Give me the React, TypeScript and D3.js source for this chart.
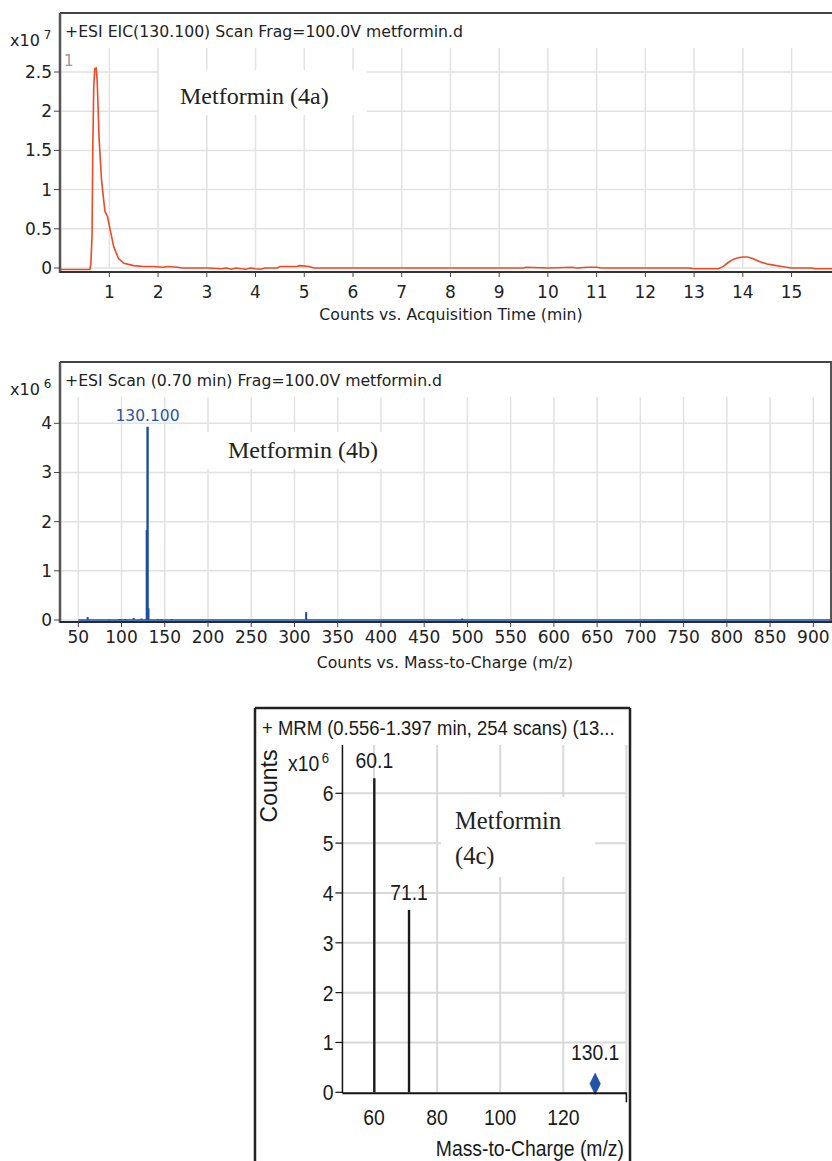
import React from "react";
import * as d3 from "d3";

// ---------------------------------------------------------------------------
// Data
// ---------------------------------------------------------------------------

// EIC chromatogram (4a): [time (min), counts x10^7]
const eicPoints: [number, number][] = [
  [0, -0.02], [0.3, -0.02], [0.6, -0.02], [0.62, 0.05], [0.645, 0.4],
  [0.66, 1.5], [0.68, 2.3], [0.7, 2.54], [0.73, 2.55], [0.75, 2.4],
  [0.79, 1.65], [0.84, 1.12], [0.91, 0.72], [0.96, 0.66], [1.02, 0.48],
  [1.09, 0.27], [1.19, 0.12], [1.3, 0.06], [1.5, 0.03], [1.7, 0.02],
  [1.9, 0.02], [2.1, 0.01], [2.2, 0.02], [2.4, 0.01], [2.5, 0],
  [3.0, 0], [3.3, -0.01], [3.4, 0], [3.5, -0.015], [3.6, 0],
  [3.7, -0.01], [3.8, -0.015], [3.9, 0], [4.0, -0.01], [4.1, -0.015],
  [4.2, 0], [4.45, 0], [4.5, 0.02], [4.85, 0.02], [4.9, 0.03],
  [5.1, 0.02], [5.2, 0], [6, 0], [7, 0], [8, 0],
  [9, 0], [9.5, 0], [9.55, 0.01], [10, 0], [10.5, 0.01],
  [10.6, 0], [10.8, 0.01], [11.0, 0.01], [11.1, 0], [11.4, 0],
  [12, 0], [12.9, 0], [13.0, -0.01], [13.3, -0.01], [13.5, -0.01],
  [13.6, 0.02], [13.7, 0.07], [13.8, 0.11], [13.9, 0.13], [14.0, 0.14],
  [14.1, 0.14], [14.2, 0.12], [14.35, 0.08], [14.5, 0.05], [14.6, 0.04],
  [14.8, 0.02], [15.0, 0], [15.4, 0], [15.5, -0.01], [15.7, -0.01],
  [15.83, -0.01],
];
const eicXTicks = [1, 2, 3, 4, 5, 6, 7, 8, 9, 10, 11, 12, 13, 14, 15];
const eicYTicks = [0, 0.5, 1, 1.5, 2, 2.5];

// MS scan (4b): [m/z, counts x10^6]
const msPeaks: [number, number][] = [
  [60.8, 0.06], [86, 0.01], [97, 0.02], [99, 0.02], [104, 0.02],
  [114, 0.04], [123, 0.03], [129.3, 1.83], [130.1, 3.93], [131.2, 0.24],
  [142, 0.02], [146, 0.02], [158, 0.02], [313.5, 0.16], [494, 0.03],
];
const msXTicks = d3.range(50, 901, 50);
const msYTicks = [0, 1, 2, 3, 4];

// MRM product ions (4c): [m/z, counts x10^6]
const mrmProducts: [number, number][] = [
  [60.1, 6.3],
  [71.1, 3.66],
];
const mrmPrecursor: [number, number] = [130.1, 0.17];
const mrmXTicks = [60, 80, 100, 120];
const mrmYTicks = [0, 1, 2, 3, 4, 5, 6];

// ---------------------------------------------------------------------------

const SANS = "'DejaVu Sans', Verdana, sans-serif";
const ARIAL = "'Liberation Sans', Arial, sans-serif";
const SERIF = "'Liberation Serif', 'Times New Roman', serif";

type NTextProps = {
  x: number;
  y: number;
  size?: number;
  anchor?: "start" | "middle" | "end";
  dy?: string;
  rotate?: number;
  squeeze?: number;
  children: React.ReactNode;
};

// condensed sans text: Arial squeezed horizontally
function NText({ x, y, size = 22, anchor = "start", dy, rotate = 0, squeeze = 0.88, children }: NTextProps) {
  const tf = rotate
    ? `translate(${x},${y}) rotate(${rotate}) scale(${squeeze},1)`
    : `translate(${x},${y}) scale(${squeeze},1)`;
  return (
    <text transform={tf} dy={dy} textAnchor={anchor} fontFamily={ARIAL} fontSize={size} fill="#1a1a1a">
      {children}
    </text>
  );
}

function EicPanel() {
  const x = d3.scaleLinear().domain([0, 15.83]).range([60.6, 832]);
  const y = d3.scaleLinear().domain([0, 2.5]).range([268, 72]);
  const top = 48;
  const line = d3
    .line<[number, number]>()
    .x((d) => x(d[0]))
    .y((d) => y(d[1]));

  return (
    <g>
      {/* grid */}
      {eicXTicks.map((t) => (
        <line key={"gx" + t} x1={x(t)} x2={x(t)} y1={top} y2={y(0)} stroke="#e2e2e2" strokeWidth={1.5} />
      ))}
      {eicYTicks.map((t) => (
        <line key={"gy" + t} x1={60} x2={832} y1={y(t)} y2={y(t)} stroke="#e2e2e2" strokeWidth={1.5} />
      ))}
      {/* annotation box */}
      <rect x={159} y={70} width={208} height={45} fill="#fff" />
      <text x={180} y={104} fontFamily={SERIF} fontSize={24} fill="#222">
        Metformin (4a)
      </text>
      <text x={64} y={66} fontFamily={SANS} fontSize={15} fill="#999">1</text>

      <path d={line(eicPoints) ?? ""} fill="none" stroke="#ee4a25" strokeWidth={1.6} />

      {/* frame and axes */}
      <line x1={60} x2={832} y1={13} y2={13} stroke="#444" strokeWidth={2} />
      <line x1={60} x2={60} y1={13} y2={273} stroke="#555" strokeWidth={2.5} />
      <line x1={60} x2={832} y1={272} y2={272} stroke="#333" strokeWidth={2} />
      <text x={65} y={37} fontFamily={SANS} fontSize={15.7} fill="#222">
        +ESI EIC(130.100) Scan Frag=100.0V metformin.d
      </text>
      <text x={10} y={46} fontFamily={SANS} fontSize={16} fill="#222">
        x10
        <tspan dx={4} dy={-7} fontSize={12}>7</tspan>
      </text>
      {eicYTicks.map((t) => (
        <g key={"ty" + t}>
          <line x1={54} x2={60} y1={y(t)} y2={y(t)} stroke="#444" />
          <text x={52} y={y(t)} dy="0.35em" textAnchor="end" fontFamily={SANS} fontSize={17} fill="#222">
            {String(t)}
          </text>
        </g>
      ))}
      {eicXTicks.map((t) => (
        <g key={"tx" + t}>
          <line x1={x(t)} x2={x(t)} y1={272} y2={277} stroke="#444" />
          <text x={x(t)} y={298} textAnchor="middle" fontFamily={SANS} fontSize={17} fill="#222">
            {t}
          </text>
        </g>
      ))}
      <text x={451} y={320} textAnchor="middle" fontFamily={SANS} fontSize={15.7} fill="#222">
        Counts vs. Acquisition Time (min)
      </text>
    </g>
  );
}

function MsPanel() {
  const x = d3.scaleLinear().domain([50, 900]).range([78.3, 813.3]);
  const y = d3.scaleLinear().domain([0, 4]).range([620, 423.3]);
  const top = 397;
  const [lx, ly] = msPeaks.reduce((a, b) => (b[1] > a[1] ? b : a));

  return (
    <g>
      {msXTicks.map((t) => (
        <line key={"gx" + t} x1={x(t)} x2={x(t)} y1={top} y2={y(0)} stroke="#e2e2e2" strokeWidth={1.5} />
      ))}
      {msYTicks.map((t) => (
        <line key={"gy" + t} x1={60} x2={831} y1={y(t)} y2={y(t)} stroke="#e2e2e2" strokeWidth={1.5} />
      ))}
      <rect x={207} y={432} width={191} height={37} fill="#fff" />
      <text x={228} y={458} fontFamily={SERIF} fontSize={24} fill="#222">
        Metformin (4b)
      </text>

      {/* profile baseline + sticks */}
      <line x1={x(50)} x2={831} y1={y(0)} y2={y(0)} stroke="#1d4f9e" strokeWidth={1.5} />
      {msPeaks.map(([mz, v]) => (
        <line
          key={"p" + mz}
          x1={x(mz)}
          x2={x(mz)}
          y1={y(0)}
          y2={y(v)}
          stroke="#1d4f9e"
          strokeWidth={v > 1 ? 2.4 : 2}
        />
      ))}
      <text x={x(lx)} y={y(ly) - 6} textAnchor="middle" fontFamily={SANS} fontSize={15.5} fill="#2a55a5">
        {lx.toFixed(3)}
      </text>

      <line x1={60} x2={832} y1={362} y2={362} stroke="#444" strokeWidth={2} />
      <line x1={60} x2={60} y1={362} y2={623} stroke="#555" strokeWidth={2.5} />
      <line x1={831} x2={831} y1={362} y2={623} stroke="#555" strokeWidth={2} />
      <line x1={60} x2={832} y1={622} y2={622} stroke="#1e2a44" strokeWidth={2} />
      <text x={65} y={386} fontFamily={SANS} fontSize={15.7} fill="#222">
        +ESI Scan (0.70 min) Frag=100.0V metformin.d
      </text>
      <text x={10} y={395} fontFamily={SANS} fontSize={16} fill="#222">
        x10
        <tspan dx={4} dy={-7} fontSize={12}>6</tspan>
      </text>
      {msYTicks.map((t) => (
        <g key={"ty" + t}>
          <line x1={54} x2={60} y1={y(t)} y2={y(t)} stroke="#444" />
          <text x={52} y={y(t)} dy="0.35em" textAnchor="end" fontFamily={SANS} fontSize={17} fill="#222">
            {t}
          </text>
        </g>
      ))}
      {msXTicks.map((t) => (
        <g key={"tx" + t}>
          <line x1={x(t)} x2={x(t)} y1={622} y2={627} stroke="#444" />
          <text x={x(t)} y={643} textAnchor="middle" fontFamily={SANS} fontSize={17} fill="#222">
            {t}
          </text>
        </g>
      ))}
      <text x={445} y={668} textAnchor="middle" fontFamily={SANS} fontSize={15.7} fill="#222">
        Counts vs. Mass-to-Charge (m/z)
      </text>
    </g>
  );
}

function MrmPanel() {
  const x = d3.scaleLinear().domain([60, 120]).range([374, 563.3]);
  const y = d3.scaleLinear().domain([0, 6]).range([1092.3, 793.3]);
  const x0 = x(50);
  const x1 = x(140);
  const top = 745;
  const diamond = d3.symbol(d3.symbolDiamond, 150)() ?? "";

  return (
    <g>
      {[...mrmXTicks, 140].map((t) => (
        <line key={"gx" + t} x1={x(t)} x2={x(t)} y1={top} y2={y(0)} stroke="#d9d9d9" strokeWidth={2} />
      ))}
      {mrmYTicks.slice(1).map((t) => (
        <line key={"gy" + t} x1={x0} x2={x1} y1={y(t)} y2={y(t)} stroke="#d9d9d9" strokeWidth={2} />
      ))}
      <rect x={441} y={797} width={154} height={80} fill="#fff" />
      <text x={455} y={829} fontFamily={SERIF} fontSize={24.5} fill="#222">Metformin</text>
      <text x={455} y={864} fontFamily={SERIF} fontSize={24.5} fill="#222">(4c)</text>

      {mrmProducts.map(([mz, v]) => (
        <g key={"b" + mz}>
          <line x1={x(mz)} x2={x(mz)} y1={y(0)} y2={y(v)} stroke="#1a1a1a" strokeWidth={2.4} />
          <NText x={x(mz)} y={y(v) - 10} anchor="middle">
            {mz.toFixed(1)}
          </NText>
        </g>
      ))}
      <path
        d={diamond}
        transform={`translate(${x(mrmPrecursor[0])},${y(mrmPrecursor[1])}) scale(0.85,1)`}
        fill="#2255a4"
      />
      <NText x={x(mrmPrecursor[0])} y={y(mrmPrecursor[1]) - 24} anchor="middle">
        {mrmPrecursor[0].toFixed(1)}
      </NText>

      {/* axes */}
      <line x1={x0} x2={x0} y1={top} y2={y(0) + 1} stroke="#111" strokeWidth={1.5} />
      <line x1={x0} x2={x1} y1={y(0) + 1} y2={y(0) + 1} stroke="#111" strokeWidth={2} />
      <line x1={x1} x2={x1} y1={y(0)} y2={y(0) + 10} stroke="#111" strokeWidth={1.5} />
      {mrmYTicks.map((t) => (
        <g key={"ty" + t}>
          <line x1={x0 - 7} x2={x0} y1={y(t)} y2={y(t)} stroke="#111" strokeWidth={1.2} />
          <NText x={x0 - 9} y={y(t)} dy="0.36em" anchor="end">
            {t}
          </NText>
        </g>
      ))}
      {mrmXTicks.map((t) => (
        <NText key={"tx" + t} x={x(t)} y={1125} anchor="middle">
          {t}
        </NText>
      ))}
      <NText x={624} y={1156} anchor="end">
        Mass-to-Charge (m/z)
      </NText>
      <NText x={277} y={786} size={23} anchor="middle" rotate={-90} squeeze={1}>
        Counts
      </NText>
      <NText x={288} y={771} size={22}>
        x10
        <tspan dx={3} dy={-8} fontSize={15}>6</tspan>
      </NText>
      <NText x={262} y={735} size={21}>
        + MRM (0.556-1.397 min, 254 scans) (13...
      </NText>

      {/* frame */}
      <line x1={255} x2={255} y1={708} y2={1161} stroke="#222" strokeWidth={2.5} />
      <line x1={255} x2={630} y1={708} y2={708} stroke="#222" strokeWidth={2.5} />
      <line x1={630} x2={630} y1={708} y2={1161} stroke="#222" strokeWidth={2.5} />
    </g>
  );
}

export default function App() {
  return (
    <svg
      width={832}
      height={1161}
      style={{ position: "absolute", left: 0, top: 0, background: "#fff" }}
    >
      <rect width={832} height={1161} fill="#fff" />
      <EicPanel />
      <MsPanel />
      <MrmPanel />
    </svg>
  );
}
